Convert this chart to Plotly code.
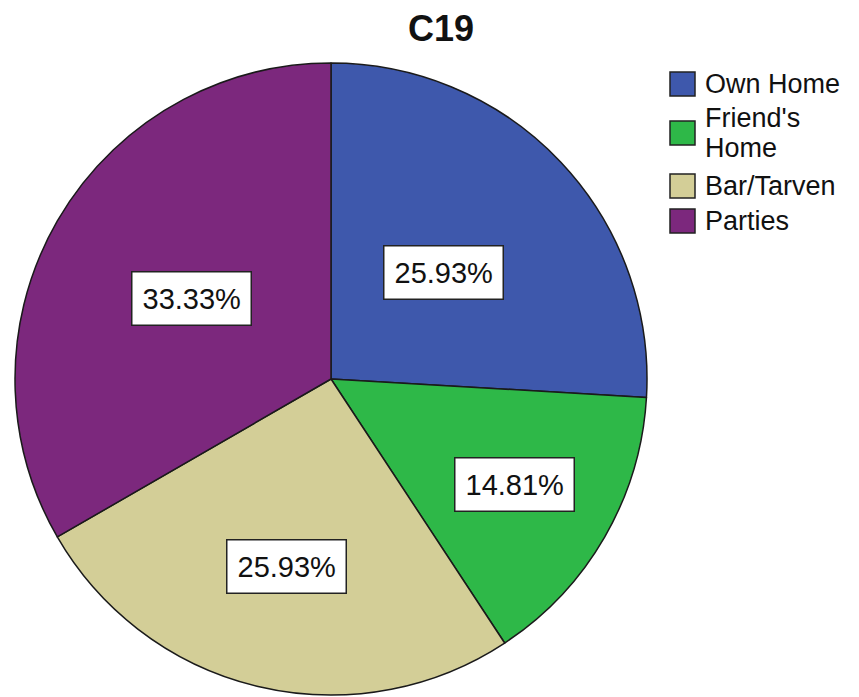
import math
import plotly.graph_objects as go

# ---- data ----
categories = ["Own Home", "Friend's Home", "Bar/Tarven", "Parties"]
legend_lines = [["Own Home"], ["Friend's", "Home"], ["Bar/Tarven"], ["Parties"]]
percentages = [25.93, 14.81, 25.93, 33.33]
colors = ["#3E58AC", "#2EB848", "#D3CE97", "#7C287D"]
title_text = "C19"

# ---- layout constants ----
W, H = 859, 697
CX, CY, R = 331, 379, 316          # pie centre / radius in pixels
label_rfrac = [0.49, 0.67, 0.61, 0.51]  # radial placement of value boxes
FONT = "Liberation Sans, Arial, sans-serif"

fig = go.Figure()
fig.add_trace(go.Pie(
    labels=categories,
    values=percentages,
    sort=False,
    direction="clockwise",
    rotation=0,
    marker=dict(colors=colors, line=dict(color="#1a1a1a", width=1.5)),
    textinfo="none",
    hoverinfo="label+percent",
    showlegend=False,
    domain=dict(x=[(CX - R) / W, (CX + R) / W],
                y=[1 - (CY + R) / H, 1 - (CY - R) / H]),
))

annotations = []
total = sum(percentages)
cum = 0.0
for p, rf in zip(percentages, label_rfrac):
    mid = (cum + p / 2) / total * 2 * math.pi
    cum += p
    px = CX + rf * R * math.sin(mid)
    py = CY - rf * R * math.cos(mid)
    annotations.append(dict(
        x=px / W, y=1 - py / H, xref="paper", yref="paper",
        text=f"{p:.2f}%", showarrow=False,
        font=dict(family=FONT, size=29, color="#111111"),
        bgcolor="white", bordercolor="#222222", borderwidth=1.5, borderpad=10,
        xanchor="center", yanchor="middle",
    ))

# manual legend (large swatches like the reference)
swatch_y = [84, 133, 186, 221]
line_gap = 31
shapes = []
for lines, col, ly in zip(legend_lines, colors, swatch_y):
    shapes.append(dict(type="rect", xref="paper", yref="paper",
                       x0=670 / W, x1=695 / W,
                       y0=1 - (ly + 12) / H, y1=1 - (ly - 12) / H,
                       fillcolor=col, line=dict(color="#222222", width=1.5)))
    n = len(lines)
    for i, txt in enumerate(lines):
        ty = ly + (i - (n - 1) / 2) * line_gap
        annotations.append(dict(
            x=704 / W, y=1 - ty / H, xref="paper", yref="paper",
            text=txt, showarrow=False, align="left",
            xanchor="left", yanchor="middle", borderpad=0,
            font=dict(family=FONT, size=27, color="#111111"),
        ))

fig.update_layout(
    width=W, height=H,
    margin=dict(l=0, r=0, t=0, b=0),
    paper_bgcolor="white", plot_bgcolor="white",
    title=dict(text=f"<b>{title_text}</b>", x=441 / W, y=1 - 28 / H,
               xanchor="center", yanchor="middle",
               font=dict(family=FONT, size=36, color="#111111")),
    annotations=annotations,
    shapes=shapes,
)

fig.write_html("out.html", config={"displayModeBar": False},
               post_script="document.body.style.margin='0';")
